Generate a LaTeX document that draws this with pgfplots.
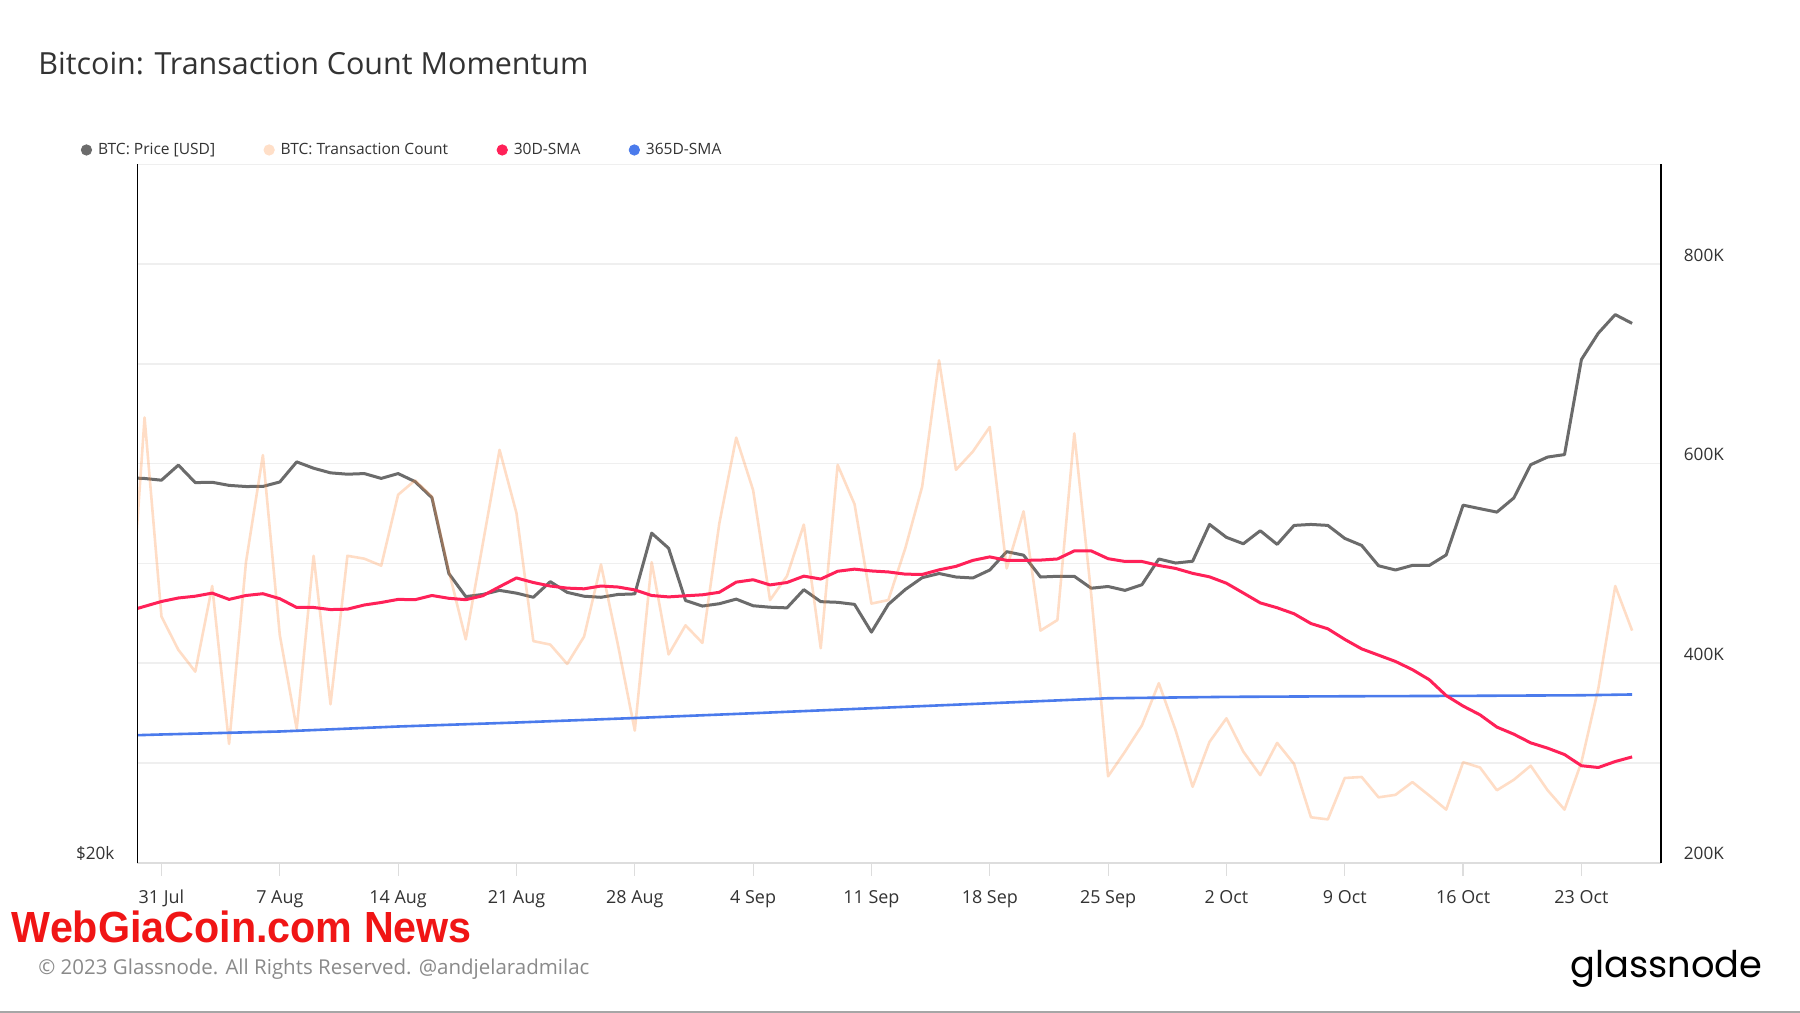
\documentclass[border=0pt]{standalone}
\usepackage{pgfplots}
\usepackage{pgfplotstable}
\pgfplotsset{compat=1.18}
\usepackage{fontspec}
\setmainfont{Open Sans}
\newfontfamily\logofont{Poppins}
\newfontfamily\wmfont{Liberation Sans}

\definecolor{pricegray}{HTML}{6B6B6B}
\definecolor{peach}{HTML}{FF8C3C}
\definecolor{peachlegend}{HTML}{FFDFC8}
\definecolor{smared}{HTML}{FF2158}
\definecolor{smablue}{HTML}{4B7BEC}
\definecolor{gridgray}{HTML}{EFEFEF}
\definecolor{tickgray}{HTML}{DDDDDD}
\definecolor{labelgray}{HTML}{333333}
\definecolor{titlegray}{HTML}{333333}
\definecolor{footgray}{HTML}{8A8A8A}
\definecolor{wmred}{HTML}{F01515}

\pgfplotstableread{
d price tx sma
-2 29300 400.0 452.0
-1 29280 646.2 456.9
0 29230 446.7 461.8
1 29673 413.3 465.3
2 29160 391.5 467.1
3 29170 477.3 470.2
4 29080 319.0 463.9
5 29048 501.2 467.8
6 29050 608.5 469.6
7 29178 428.1 464.6
8 29766 334.1 455.8
9 29580 507.6 455.8
10 29445 358.8 453.7
11 29404 507.6 454.1
12 29424 504.7 458.3
13 29282 497.7 460.8
14 29424 568.8 463.9
15 29190 583.2 463.6
16 28727 567.0 467.8
17 26644 492.4 465.0
18 26040 423.8 463.6
19 26095 518.8 467.5
20 26202 613.8 476.6
21 26130 550.5 485.4
22 26022 422.1 480.8
23 26430 418.6 477.3
24 26150 399.2 475.2
25 26050 426.6 474.5
26 26022 498.8 477.3
27 26095 418.6 476.3
28 26110 332.4 473.4
29 27734 501.2 467.8
30 27321 408.7 466.4
31 25940 437.9 467.5
32 25797 420.3 468.5
33 25857 540.0 471.0
34 25975 626.1 481.2
35 25805 573.4 483.6
36 25768 463.2 478.4
37 25750 487.2 480.8
38 26220 538.9 487.2
39 25910 415.0 484.3
40 25893 598.7 492.1
41 25840 559.3 494.2
42 25138 459.7 492.4
43 25840 463.2 491.4
44 26224 515.0 489.2
45 26534 576.9 488.9
46 26644 703.5 493.5
47 26551 593.8 497.0
48 26526 612.1 503.0
49 26737 636.7 506.5
50 27228 494.9 503.0
51 27133 552.2 503.0
52 26551 432.6 503.3
53 26570 443.2 504.4
54 26570 630.3 512.5
55 26258 469.0 512.5
56 26303 286.6 504.7
57 26202 311.3 501.9
58 26349 337.6 501.9
59 27030 379.9 497.9
60 26922 332.4 494.9
61 26971 276.1 490.0
62 27974 321.1 486.5
63 27618 344.7 480.1
64 27444 311.3 470.3
65 27800 287.7 460.4
66 27425 320.1 455.5
67 27948 299.0 449.5
68 27974 245.5 439.7
69 27948 243.4 434.4
70 27589 284.9 423.8
71 27397 285.9 414.3
72 26849 265.5 408.0
73 26737 268.0 401.7
74 26860 280.8 393.5
75 26860 267.3 383.4
76 27140 253.2 367.5
77 28516 300.7 357.0
78 28416 295.4 348.2
79 28319 272.6 335.9
80 28719 283.1 328.8
81 29682 297.2 320.1
82 29909 272.6 314.8
83 29984 253.2 308.4
84 32951 300.7 297.2
85 33825 374.6 295.4
86 34454 477.3 301.4
87 34152 432.6 306.0
}\maindata

\pgfplotstableread{
d sma
-2 327.5
0 328.5
7 331.5
14 336.5
21 340.5
28 345.0
35 349.8
42 354.8
49 359.8
56 364.8
63 366.2
70 366.8
77 367.2
84 367.8
87 368.6
}\bluedata

\begin{document}
\begin{tikzpicture}[x=1bp,y=1bp]
\useasboundingbox (0,0) rectangle (900,506.5);
\fill[white] (0,0) rectangle (900,506.5);

% background axis: grid, ticks, labels
\begin{axis}[
  name=A,
  at={(68.65bp,75.15bp)}, anchor=south west,
  scale only axis, width=761.85bp, height=349.2bp,
  xmin=-1.43, xmax=88.71, ymin=200, ymax=900,
  axis line style={draw=none},
  ytick={200,300,400,500,600,700,800,900},
  yticklabels={200K,,400K,,600K,,800K,},
  ytick pos=right, yticklabel pos=right,
  ymajorgrids, grid style={color=gridgray, line width=0.75bp},
  ytick style={draw=none},
  xtick={0,7,...,84},
  xticklabels={31 Jul,7 Aug,14 Aug,21 Aug,28 Aug,4 Sep,11 Sep,18 Sep,25 Sep,2 Oct,9 Oct,16 Oct,23 Oct},
  xtick pos=left, tick align=outside, major tick length=6.5bp,
  xtick style={draw=tickgray, line width=0.6bp},
  xticklabel style={font=\fontsize{9}{10}\selectfont, text=labelgray, anchor=base, inner sep=0pt, yshift=-14.1bp},
  yticklabel style={font=\fontsize{8.6}{10}\selectfont, text=labelgray, anchor=base west, inner sep=0pt, xshift=4.75bp, yshift=1.35bp},
]
\end{axis}

% price axis (log)
\begin{axis}[
  name=B,
  at={(68.65bp,75.15bp)}, anchor=south west,
  scale only axis, width=761.85bp, height=349.2bp,
  xmin=-1.43, xmax=88.71,
  ymode=log, ymin=20000, ymax=40000,
  hide x axis,
  axis line style={draw=none},
  ytick={20000}, yticklabels={\$20k},
  ytick pos=left, ytick style={draw=none},
  yticklabel style={font=\fontsize{8.6}{10}\selectfont, text=labelgray, anchor=base east, inner sep=0pt, xshift=-11.25bp, yshift=1.35bp},
]
\addplot[pricegray, line width=1.5bp, line join=round] table[x=d, y=price] {\maindata};
\end{axis}

% transaction count axis
\begin{axis}[
  name=C,
  at={(68.65bp,75.15bp)}, anchor=south west,
  scale only axis, width=761.85bp, height=349.2bp,
  xmin=-1.43, xmax=88.71, ymin=200, ymax=900,
  hide axis,
  legend columns=4,
  legend cell align=left,
  legend style={draw=none, fill=none, at={(axis description cs:-0.0373,1.0205)}, anchor=west,
    inner xsep=0pt, inner ysep=0pt, nodes={inner sep=0pt},
    font=\fontsize{7.8}{9}\selectfont, text=labelgray,
    /tikz/every odd column/.append style={column sep=3bp},
    /tikz/every even column/.append style={column sep=24.2bp}},
]
\addlegendimage{legend image code/.code={\fill[pricegray] (0bp,0bp) circle (2.6bp);}}
\addlegendentry{BTC: Price [USD]}
\addlegendimage{legend image code/.code={\fill[peachlegend] (0bp,0bp) circle (2.6bp);}}
\addlegendentry{BTC: Transaction Count}
\addlegendimage{legend image code/.code={\fill[smared] (0bp,0bp) circle (2.6bp);}}
\addlegendentry{30D-SMA}
\addlegendimage{legend image code/.code={\fill[smablue] (0bp,0bp) circle (2.6bp);}}
\addlegendentry{365D-SMA}
\addplot[forget plot, peach, opacity=0.29, line width=1.3bp, line join=round] table[x=d, y=tx] {\maindata};
\addplot[forget plot, smablue, line width=1.3bp] table[x=d, y=sma] {\bluedata};
\addplot[forget plot, smared, line width=1.5bp, line join=round] table[x=d, y=sma] {\maindata};
\end{axis}

% axis frame lines
\draw[tickgray, line width=1bp] (A.south west) -- (A.south east);
\draw[black, line width=0.8bp] (A.south west) -- (A.north west);
\draw[black, line width=0.8bp] (A.south east) -- (A.north east);

% title
\node[anchor=base west, inner sep=0pt, text=titlegray] at (19,469) {\resizebox{275bp}{!}{Bitcoin: Transaction Count Momentum}};

% watermark
\node[anchor=base west, inner sep=0pt, text=wmred] at (5.7,35.35) {\resizebox{230bp}{15.8bp}{\wmfont\bfseries WebGiaCoin.com News}};

% footer
\node[anchor=base west, inner sep=0pt, text=footgray] at (19,19) {\resizebox{275.5bp}{!}{\textcopyright{} 2023 Glassnode. All Rights Reserved. @andjelaradmilac}};
\node[anchor=base west, inner sep=0pt, text=black] at (785,17.5) {\resizebox{96bp}{!}{\logofont glassnode}};

\fill[gray!70] (0,0) rectangle (900,0.8);
\end{tikzpicture}
\end{document}
